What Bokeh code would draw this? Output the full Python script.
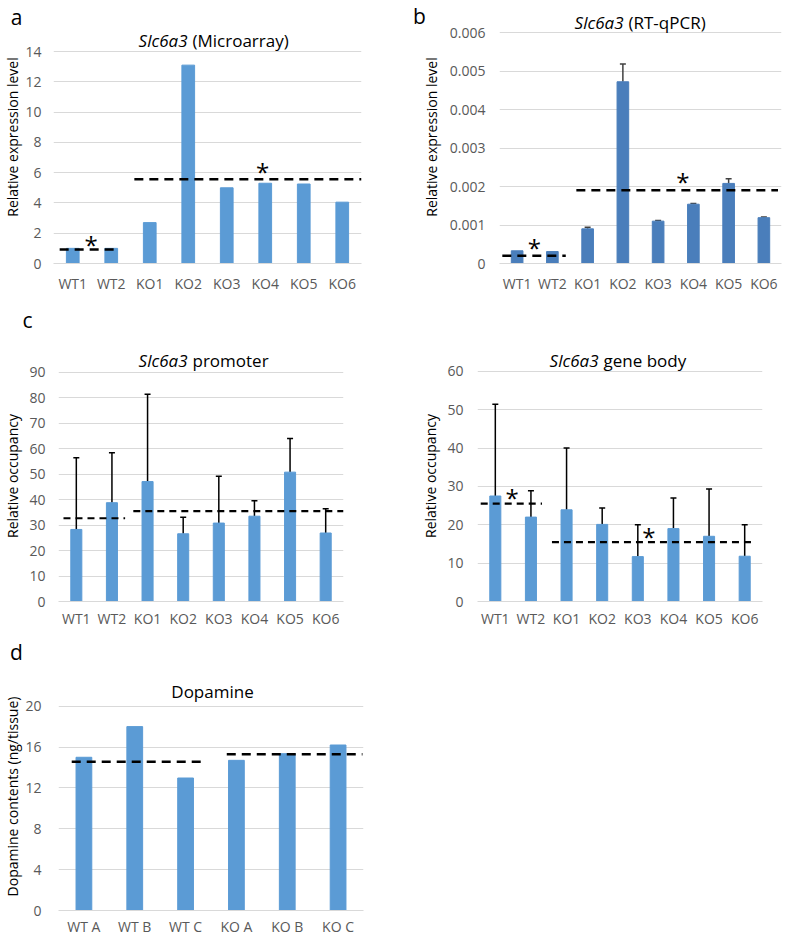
from bokeh.plotting import figure
from bokeh.layouts import column, row
from bokeh.models import Whisker, ColumnDataSource, Label, FixedTicker, CustomJSTickFormatter, TeeHead
from bokeh.core.properties import value
from bokeh.embed import file_html
from bokeh.resources import INLINE

# ---------------- data ----------------
samples = ["WT1", "WT2", "KO1", "KO2", "KO3", "KO4", "KO5", "KO6"]

micro_values = [1.0, 1.0, 2.7, 13.1, 5.0, 5.3, 5.25, 4.05]
micro_means = [0.93, 5.57]

qpcr_values = [0.00033, 0.00031, 0.0009, 0.00472, 0.0011, 0.00154, 0.00208, 0.00119]
qpcr_err = [0.0, 0.0, 0.00004, 0.00046, 0.00002, 0.00002, 0.00012, 0.00002]
qpcr_means = [0.0002, 0.0019]

prom_values = [28.3, 38.8, 47.1, 26.6, 30.8, 33.5, 50.8, 26.9]
prom_err = [28.2, 19.6, 34.3, 6.5, 18.4, 6.1, 13.2, 9.5]
prom_means = [32.7, 35.5]

body_values = [27.5, 22.0, 23.9, 20.1, 11.7, 19.0, 17.0, 11.8]
body_err = [23.9, 6.9, 16.1, 4.3, 8.3, 8.0, 12.3, 8.2]
body_means = [25.5, 15.5]

dopa_samples = ["WT A", "WT B", "WT C", "KO A", "KO B", "KO C"]
dopa_values = [15.0, 18.0, 12.97, 14.7, 15.35, 16.2]
dopa_means = [14.57, 15.3]

FONT = "Open Sans"
TICK_COLOR = "#595959"
GRID = "#d9d9d9"


def make_panel(cats, vals, errs, means, spans, ytop, yend, yticks, ylabel,
               W, H, bl, br, bt, bb, color, bar_width=0.32,
               fmt=None, err_color="#000000", dash="7 5", dash_w=2.2,
               stars=None, title_it=None, title_rest=None, title_x=0,
               title_y=0, letter=None, letter_side="right", letter_xy=(0, 0),
               xstandoff=10, ystandoff=14, lstandoff=4):
    p = figure(x_range=cats, y_range=(0, yend), width=W, height=H,
               min_border_left=bl, min_border_right=br, min_border_top=bt,
               min_border_bottom=bb, output_backend="svg", toolbar_location=None)
    p.outline_line_color = None
    p.xgrid.grid_line_color = None
    p.ygrid.grid_line_color = GRID
    p.ygrid.grid_line_width = 1
    p.yaxis.ticker = FixedTicker(ticks=yticks)
    p.yaxis.bounds = (0, ytop)
    if fmt is not None:
        p.yaxis.formatter = fmt
    for ax in (p.xaxis[0], p.yaxis[0]):
        ax.major_tick_line_color = None
        ax.minor_tick_line_color = None
        ax.major_tick_out = 0
        ax.major_tick_in = 0
        ax.minor_tick_out = 0
        ax.minor_tick_in = 0
        ax.major_label_text_font = FONT
        ax.major_label_text_font_size = "14px"
        ax.major_label_text_color = TICK_COLOR
    p.yaxis.axis_line_color = None
    p.xaxis.axis_line_color = GRID
    p.xaxis.major_label_standoff = xstandoff
    p.yaxis.major_label_standoff = ystandoff
    p.yaxis.axis_label = ylabel
    p.yaxis.axis_label_text_font = FONT
    p.yaxis.axis_label_text_font_size = "14px"
    p.yaxis.axis_label_text_font_style = "normal"
    p.yaxis.axis_label_text_color = "#000000"
    p.yaxis.axis_label_standoff = lstandoff

    src = ColumnDataSource(dict(x=cats, top=vals))
    p.vbar(x="x", top="top", width=bar_width, source=src,
           fill_color=color, line_color=color)

    if errs is not None:
        ex, lo, up = [], [], []
        for c, v, e in zip(cats, vals, errs):
            if e > 0:
                ex.append(c)
                lo.append(v)
                up.append(v + e)
        wsrc = ColumnDataSource(dict(base=ex, lower=lo, upper=up))
        w = Whisker(base="base", lower="lower", upper="upper", source=wsrc,
                    dimension="height", line_color=err_color, line_width=1.5,
                    lower_head=None,
                    upper_head=TeeHead(size=6, line_color=err_color, line_width=1.5))
        p.add_layout(w)

    x0 = [s[0] for s in spans]
    x1 = [s[1] for s in spans]
    p.segment(x0=x0, y0=means, x1=x1, y1=means, line_color="#000000",
              line_width=dash_w, line_dash=dash)

    if stars:
        p.text(x=[s[0] for s in stars], y=[s[1] for s in stars],
               text=["*"] * len(stars), text_font=value(FONT),
               text_font_size="24px", text_color="#000000",
               text_align="center", text_baseline="middle", y_offset=1)

    if title_it is not None:
        p.add_layout(Label(x=title_x, y=title_y, x_units="screen", y_units="screen",
                           text=title_it, text_font=FONT, text_font_size="17px",
                           text_font_style="italic", text_align="right",
                           text_baseline="middle", text_color="#000000"))
        p.add_layout(Label(x=title_x, y=title_y, x_units="screen", y_units="screen",
                           x_offset=5, text=title_rest, text_font=FONT,
                           text_font_size="17px", text_align="left",
                           text_baseline="middle", text_color="#000000"))
    elif title_rest is not None:
        p.add_layout(Label(x=title_x, y=title_y, x_units="screen", y_units="screen",
                           text=title_rest, text_font=FONT, text_font_size="17px",
                           text_align="center", text_baseline="middle",
                           text_color="#000000"))
    if letter:
        p.add_layout(Label(x=letter_xy[0], y=letter_xy[1], x_units="screen",
                           y_units="screen", text=letter, text_font=FONT,
                           text_font_size="21px", text_align="center",
                           text_baseline="middle", text_color="#000000"),
                     letter_side)
    return p


qfmt = CustomJSTickFormatter(code="return tick == 0 ? '0' : tick.toFixed(3);")

# row 1 (shared borders): frames y 10..263
# panel a : frame x 52..361 (14 at y=51)
pa = make_panel(samples, micro_values, None, micro_means,
                [(0.16, 1.68), (2.1, 8.0)], 14, 14 * 253 / 212, list(range(0, 15, 2)),
                "Relative expression level",
                400, 300, 52, 39, 10, 37, "#5b9bd5", bar_width=0.33,
                dash="9 6", dash_w=2.5,
                stars=[(0.98, 1.32), (5.43, 6.14)],
                title_it="Slc6a3", title_rest="(Microarray)", title_x=134,
                title_y=223, letter="a", letter_side="right", letter_xy=(-345, 247),
                ystandoff=12, lstandoff=0)

# panel b : frame x 499..781 (0.006 at y=32)
pb = make_panel(samples, qpcr_values, qpcr_err, qpcr_means,
                [(0.08, 1.88), (2.18, 7.9)], 0.006, 0.006 * 253 / 231,
                [0, 0.001, 0.002, 0.003, 0.004, 0.005, 0.006],
                "Relative expression level",
                387, 300, 99, 6, 10, 37, "#4a7ebb", bar_width=0.33, fmt=qfmt,
                err_color="#404040", dash="9 6", dash_w=2.5,
                stars=[(0.99, 0.00043), (5.2, 0.00216)],
                title_it="Slc6a3", title_rest="(RT-qPCR)", title_x=124,
                title_y=241, letter="b", letter_side="left", letter_xy=(14, 248),
                ystandoff=14, lstandoff=6)

# row 2: frames y 350..603
# panel c left : frame x 58..343 (90 at y=372)
pc1 = make_panel(samples, prom_values, prom_err, prom_means,
                 [(0.14, 1.87), (2.1, 8.0)], 90, 90 * 253 / 231, list(range(0, 91, 10)),
                 "Relative occupancy",
                 400, 330, 58, 57, 50, 27, "#5b9bd5", bar_width=0.31,
                 dash="7 5", dash_w=2.2,
                 title_it="Slc6a3", title_rest="promoter", title_x=129,
                 title_y=241, letter="c", letter_side="right", letter_xy=(-316, 282),
                 xstandoff=7, ystandoff=13, lstandoff=4)

# panel c right : frame x 477..762 (60 at y=371)
pc2 = make_panel(samples, body_values, body_err, body_means,
                 [(0.09, 1.81), (2.09, 7.76)], 60, 60 * 253 / 232, list(range(0, 61, 10)),
                 "Relative occupancy",
                 387, 330, 77, 25, 50, 27, "#5b9bd5", bar_width=0.31,
                 dash="7 5", dash_w=2.2,
                 stars=[(0.97, 27.5), (4.81, 17.3)],
                 title_it="Slc6a3", title_rest="gene body", title_x=121,
                 title_y=241, xstandoff=7, ystandoff=14, lstandoff=4)

# panel d : frame x 58..363, y 682..913 (20 at y=706)
pd_ = make_panel(dopa_samples, dopa_values, None, dopa_means,
                 [(0.26, 2.86), (3.31, 5.98)], 20, 20 * 231 / 207, [0, 4, 8, 12, 16, 20],
                 "Dopamine contents (ng/tissue)",
                 400, 308, 58, 37, 52, 25, "#5b9bd5", bar_width=0.31,
                 dash="9 6", dash_w=2.5,
                 title_rest="Dopamine", title_x=154, title_y=219,
                 letter="d", letter_side="right", letter_xy=(-347, 259), xstandoff=6,
                 ystandoff=17, lstandoff=0)

layout = column(row(pa, pb), row(pc1, pc2), row(pd_))

open("out.html", "w").write(file_html(layout, INLINE))
